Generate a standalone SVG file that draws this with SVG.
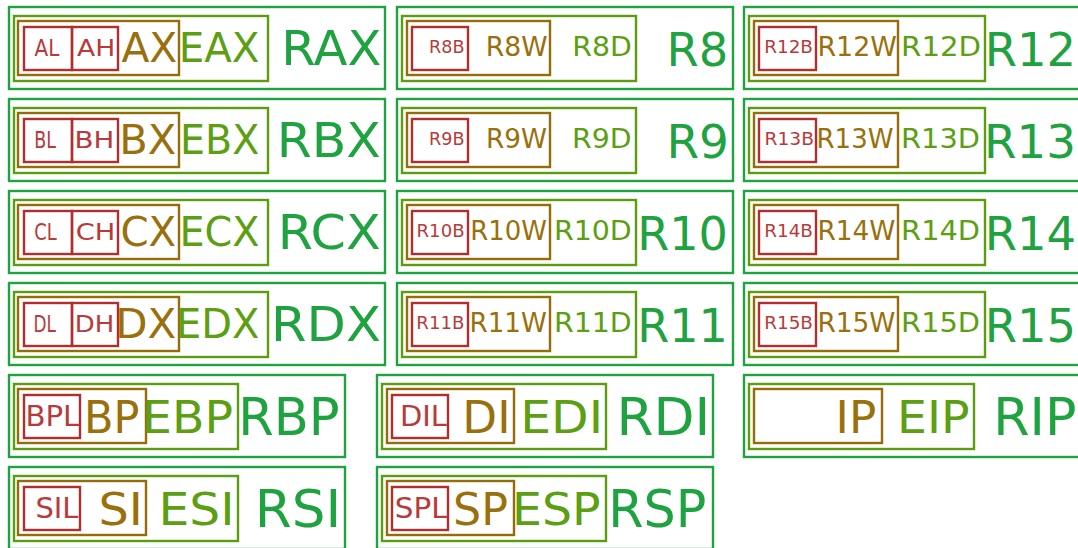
<svg xmlns="http://www.w3.org/2000/svg" width="1078" height="548" viewBox="0 0 1078 548">
<style>
rect{fill:none;stroke-width:2.4}
.o{stroke:#1ea33e}
.e{stroke:#5a9e10}
.x{stroke:#966c08}
.l{stroke:#b02e2e}
text{font-family:"DejaVu Sans","Liberation Sans",sans-serif}
.tr{fill:#1fa240}
.te{fill:#5c9f12}
.tx{fill:#9a700c}
.tl{fill:#b83a3a}
.f21{font-size:22.5px}.f40{font-size:40px}.f48{font-size:48px}
.f17{font-size:17.5px}.f26{font-size:26px}.f46{font-size:46px}
.f28{font-size:28px}.f44{font-size:44px}.f51{font-size:51px}
</style>
<defs>
<g id="leftBoxes">
<rect class="o" x="9" y="7" width="376" height="82"/>
<rect class="e" x="14" y="16" width="254" height="65"/>
<rect class="x" x="18" y="21" width="161" height="54"/>
<rect class="l" x="24" y="27" width="48" height="43"/>
<rect class="l" x="72" y="27" width="46" height="43"/>
</g>
<g id="midBoxes">
<rect class="o" x="397" y="7" width="336" height="82"/>
<rect class="e" x="402" y="16" width="234" height="65"/>
<rect class="x" x="407" y="21" width="143" height="54"/>
<rect class="l" x="412" y="27" width="56" height="43"/>
</g>
<g id="rightBoxes">
<rect class="o" x="744" y="7" width="340" height="82"/>
<rect class="e" x="749" y="16" width="236" height="65"/>
<rect class="x" x="754" y="21" width="144" height="54"/>
<rect class="l" x="759" y="27" width="57" height="43"/>
</g>
<g id="lowLeftBoxes">
<rect class="o" x="9" y="7" width="336" height="82"/>
<rect class="e" x="14" y="16" width="224" height="65"/>
<rect class="x" x="18" y="21" width="128" height="54"/>
<rect class="l" x="24" y="27" width="56" height="43"/>
</g>
<g id="lowMidBoxes">
<rect class="o" x="377" y="7" width="336" height="82"/>
<rect class="e" x="382" y="16" width="224" height="65"/>
<rect class="x" x="387" y="21" width="127" height="54"/>
<rect class="l" x="392" y="27" width="56" height="43"/>
</g>
</defs>

<!-- Left column, rows 1-4 -->
<g id="RAX">
<use href="#leftBoxes"/>
<text class="tl f21" x="34.5" y="56" textLength="24.8" lengthAdjust="spacingAndGlyphs">AL</text>
<text class="tl f21" x="77.1" y="56" textLength="38.2" lengthAdjust="spacingAndGlyphs">AH</text>
<text class="tx f40" x="121.4" y="61.8" textLength="55.9" lengthAdjust="spacingAndGlyphs">AX</text>
<text class="te f40" x="178.7" y="61.8" textLength="80.8" lengthAdjust="spacingAndGlyphs">EAX</text>
<text class="tr f48" x="281.2" y="65" textLength="100.3" lengthAdjust="spacingAndGlyphs">RAX</text>
</g>
<g id="RBX" transform="translate(0,92)">
<use href="#leftBoxes"/>
<text class="tl f21" x="34.3" y="56" textLength="21.8" lengthAdjust="spacingAndGlyphs">BL</text>
<text class="tl f21" x="74.6" y="56" textLength="39.8" lengthAdjust="spacingAndGlyphs">BH</text>
<text class="tx f40" x="119.2" y="61.8" textLength="57" lengthAdjust="spacingAndGlyphs">BX</text>
<text class="te f40" x="180.1" y="61.8" textLength="79.3" lengthAdjust="spacingAndGlyphs">EBX</text>
<text class="tr f48" x="276.8" y="65" textLength="104.1" lengthAdjust="spacingAndGlyphs">RBX</text>
</g>
<g id="RCX" transform="translate(0,184)">
<use href="#leftBoxes"/>
<text class="tl f21" x="34.3" y="56" textLength="22.5" lengthAdjust="spacingAndGlyphs">CL</text>
<text class="tl f21" x="75.8" y="56" textLength="39.6" lengthAdjust="spacingAndGlyphs">CH</text>
<text class="tx f40" x="120.4" y="61.8" textLength="55.8" lengthAdjust="spacingAndGlyphs">CX</text>
<text class="te f40" x="179.4" y="61.8" textLength="80.1" lengthAdjust="spacingAndGlyphs">ECX</text>
<text class="tr f48" x="277.8" y="65" textLength="102.9" lengthAdjust="spacingAndGlyphs">RCX</text>
</g>
<g id="RDX" transform="translate(0,276)">
<use href="#leftBoxes"/>
<text class="tl f21" x="33.6" y="56" textLength="22.4" lengthAdjust="spacingAndGlyphs">DL</text>
<text class="tl f21" x="74.8" y="56" textLength="39.5" lengthAdjust="spacingAndGlyphs">DH</text>
<text class="tx f40" x="115.2" y="61.8" textLength="61.1" lengthAdjust="spacingAndGlyphs">DX</text>
<text class="te f40" x="176.1" y="61.8" textLength="83.4" lengthAdjust="spacingAndGlyphs">EDX</text>
<text class="tr f48" x="271" y="65" textLength="109.9" lengthAdjust="spacingAndGlyphs">RDX</text>
</g>

<!-- Middle column, rows 1-4 -->
<g id="R8">
<use href="#midBoxes"/>
<text class="tl f17" x="429" y="53.3" textLength="35.5" lengthAdjust="spacingAndGlyphs">R8B</text>
<text class="tx f26" x="485.7" y="56.3" textLength="61.9" lengthAdjust="spacingAndGlyphs">R8W</text>
<text class="te f26" x="572.2" y="56.3" textLength="59.6" lengthAdjust="spacingAndGlyphs">R8D</text>
<text class="tr f46" x="666.5" y="66" textLength="61.7" lengthAdjust="spacingAndGlyphs">R8</text>
</g>
<g id="R9" transform="translate(0,92)">
<use href="#midBoxes"/>
<text class="tl f17" x="429" y="53.3" textLength="35.5" lengthAdjust="spacingAndGlyphs">R9B</text>
<text class="tx f26" x="486" y="56.3" textLength="61" lengthAdjust="spacingAndGlyphs">R9W</text>
<text class="te f26" x="572" y="56.3" textLength="59.6" lengthAdjust="spacingAndGlyphs">R9D</text>
<text class="tr f46" x="666.5" y="66" textLength="62.5" lengthAdjust="spacingAndGlyphs">R9</text>
</g>
<g id="R10" transform="translate(0,184)">
<use href="#midBoxes"/>
<text class="tl f17" x="416.5" y="53.3" textLength="48.1" lengthAdjust="spacingAndGlyphs">R10B</text>
<text class="tx f26" x="470.2" y="56.3" textLength="76.7" lengthAdjust="spacingAndGlyphs">R10W</text>
<text class="te f26" x="553.9" y="56.3" textLength="77.9" lengthAdjust="spacingAndGlyphs">R10D</text>
<text class="tr f46" x="637.2" y="66" textLength="90.8" lengthAdjust="spacingAndGlyphs">R10</text>
</g>
<g id="R11" transform="translate(0,276)">
<use href="#midBoxes"/>
<text class="tl f17" x="416.3" y="53.3" textLength="48.1" lengthAdjust="spacingAndGlyphs">R11B</text>
<text class="tx f26" x="469.5" y="56.3" textLength="77.3" lengthAdjust="spacingAndGlyphs">R11W</text>
<text class="te f26" x="553.9" y="56.3" textLength="77.9" lengthAdjust="spacingAndGlyphs">R11D</text>
<text class="tr f46" x="637.2" y="66" textLength="90.8" lengthAdjust="spacingAndGlyphs">R11</text>
</g>

<!-- Right column, rows 1-4 -->
<g id="R12">
<use href="#rightBoxes"/>
<text class="tl f17" x="764.2" y="53.3" textLength="48.8" lengthAdjust="spacingAndGlyphs">R12B</text>
<text class="tx f26" x="817.4" y="56.3" textLength="79.5" lengthAdjust="spacingAndGlyphs">R12W</text>
<text class="te f26" x="901.1" y="56.3" textLength="80" lengthAdjust="spacingAndGlyphs">R12D</text>
<text class="tr f46" x="984.7" y="66" textLength="91.5" lengthAdjust="spacingAndGlyphs">R12</text>
</g>
<g id="R13" transform="translate(0,92)">
<use href="#rightBoxes"/>
<text class="tl f17" x="764.5" y="53.3" textLength="49.5" lengthAdjust="spacingAndGlyphs">R13B</text>
<text class="tx f26" x="816.5" y="56.3" textLength="77" lengthAdjust="spacingAndGlyphs">R13W</text>
<text class="te f26" x="901" y="56.3" textLength="79" lengthAdjust="spacingAndGlyphs">R13D</text>
<text class="tr f46" x="984" y="66" textLength="92" lengthAdjust="spacingAndGlyphs">R13</text>
</g>
<g id="R14" transform="translate(0,184)">
<use href="#rightBoxes"/>
<text class="tl f17" x="764.2" y="53.3" textLength="48.8" lengthAdjust="spacingAndGlyphs">R14B</text>
<text class="tx f26" x="817.4" y="56.3" textLength="78" lengthAdjust="spacingAndGlyphs">R14W</text>
<text class="te f26" x="901.1" y="56.3" textLength="79" lengthAdjust="spacingAndGlyphs">R14D</text>
<text class="tr f46" x="984.7" y="66" textLength="91.5" lengthAdjust="spacingAndGlyphs">R14</text>
</g>
<g id="R15" transform="translate(0,276)">
<use href="#rightBoxes"/>
<text class="tl f17" x="764.2" y="53.3" textLength="48.8" lengthAdjust="spacingAndGlyphs">R15B</text>
<text class="tx f26" x="817.4" y="56.3" textLength="78" lengthAdjust="spacingAndGlyphs">R15W</text>
<text class="te f26" x="901.1" y="56.3" textLength="79" lengthAdjust="spacingAndGlyphs">R15D</text>
<text class="tr f46" x="984.7" y="66" textLength="91.5" lengthAdjust="spacingAndGlyphs">R15</text>
</g>

<!-- Rows 5-6 -->
<g id="RBP" transform="translate(0,368)">
<use href="#lowLeftBoxes"/>
<text class="tl f28" x="25.4" y="58.3" textLength="54" lengthAdjust="spacingAndGlyphs">BPL</text>
<text class="tx f44" x="84.1" y="65" textLength="55.4" lengthAdjust="spacingAndGlyphs">BP</text>
<text class="te f44" x="142.1" y="65" textLength="91" lengthAdjust="spacingAndGlyphs">EBP</text>
<text class="tr f51" x="238.3" y="67" textLength="101.4" lengthAdjust="spacingAndGlyphs">RBP</text>
</g>
<g id="RSI" transform="translate(0,460)">
<use href="#lowLeftBoxes"/>
<text class="tl f28" x="35.4" y="58.3" textLength="43.1" lengthAdjust="spacingAndGlyphs">SIL</text>
<text class="tx f44" x="98.5" y="65" textLength="44.4" lengthAdjust="spacingAndGlyphs">SI</text>
<text class="te f44" x="158.5" y="65" textLength="76.2" lengthAdjust="spacingAndGlyphs">ESI</text>
<text class="tr f51" x="254.8" y="67" textLength="86.4" lengthAdjust="spacingAndGlyphs">RSI</text>
</g>
<g id="RDI" transform="translate(0,368)">
<use href="#lowMidBoxes"/>
<text class="tl f28" x="399.9" y="58.3" textLength="47" lengthAdjust="spacingAndGlyphs">DIL</text>
<text class="tx f44" x="462.3" y="65" textLength="48.2" lengthAdjust="spacingAndGlyphs">DI</text>
<text class="te f44" x="520.2" y="65" textLength="82.9" lengthAdjust="spacingAndGlyphs">EDI</text>
<text class="tr f51" x="616.5" y="67" textLength="93.8" lengthAdjust="spacingAndGlyphs">RDI</text>
</g>
<g id="RSP" transform="translate(0,460)">
<use href="#lowMidBoxes"/>
<text class="tl f28" x="394.8" y="58.3" textLength="52.7" lengthAdjust="spacingAndGlyphs">SPL</text>
<text class="tx f44" x="453.1" y="65" textLength="54.9" lengthAdjust="spacingAndGlyphs">SP</text>
<text class="te f44" x="512.1" y="65" textLength="88.6" lengthAdjust="spacingAndGlyphs">ESP</text>
<text class="tr f51" x="608.3" y="67" textLength="98.1" lengthAdjust="spacingAndGlyphs">RSP</text>
</g>
<g id="RIP" transform="translate(0,368)">
<rect class="o" x="744" y="7" width="340" height="82"/>
<rect class="e" x="749" y="16" width="225" height="65"/>
<rect class="x" x="754" y="21" width="128" height="54"/>
<text class="tx f44" x="835.6" y="65" textLength="40.7" lengthAdjust="spacingAndGlyphs">IP</text>
<text class="te f44" x="897.1" y="65" textLength="72.6" lengthAdjust="spacingAndGlyphs">EIP</text>
<text class="tr f51" x="993.2" y="67" textLength="83.3" lengthAdjust="spacingAndGlyphs">RIP</text>
</g>
</svg>
